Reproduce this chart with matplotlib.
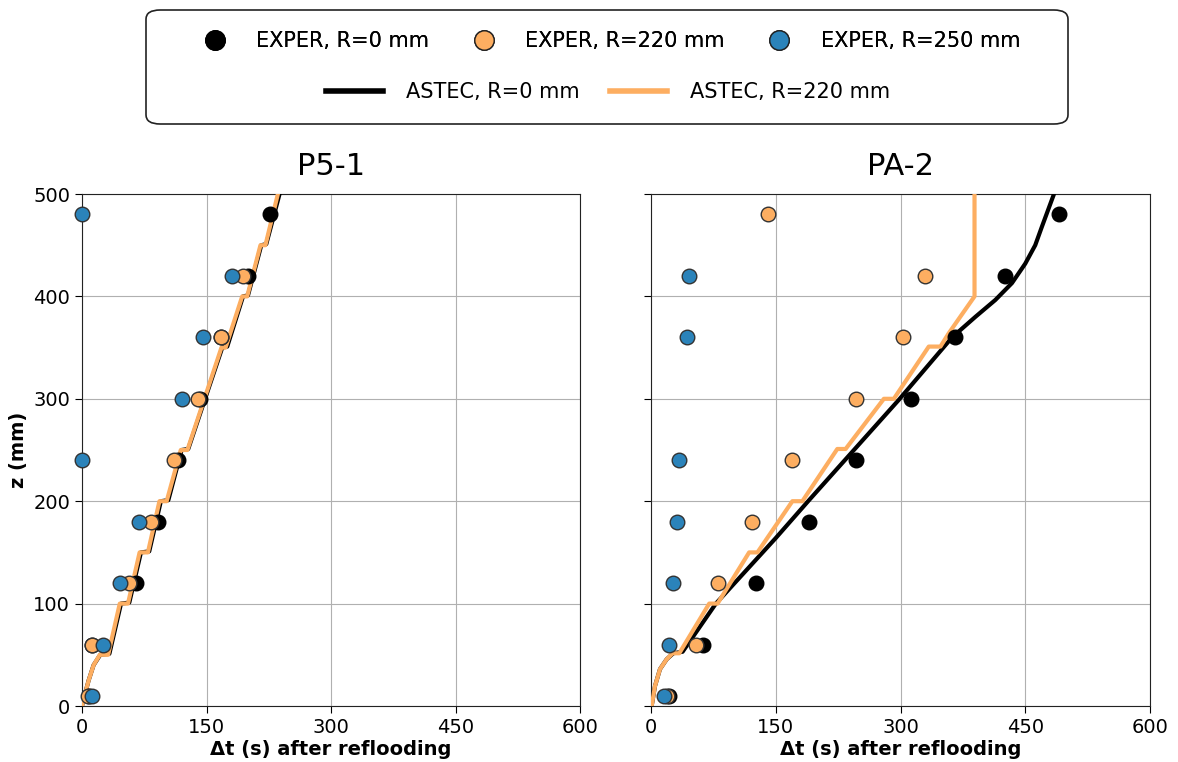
import matplotlib
matplotlib.use("Agg")
import matplotlib.pyplot as plt
from matplotlib.patches import FancyBboxPatch
from matplotlib.lines import Line2D

# ---------------- data ----------------
z_exp = [480, 420, 360, 300, 240, 180, 120, 60, 10]

# P5-1
p5_exp_r0 = [226, 200, 168, 142, 116, 92, 65, 12, 9]
p5_exp_r220 = [None, 194, 167, 140, 111, 83, 57, 12, 7.6]
p5_exp_r250 = [0, 181, 146, 120, 0, 69, 46, 25.5, 12.4]

p5_astec_r220_t = [0, 3, 8, 14, 21.5, 31.5, 45.5, 55.4, 69.4, 79.4, 93.3, 102, 119, 127,
                   168, 173, 193, 199, 215, 221, 236]
p5_astec_r220_z = [0, 10, 25, 40, 50, 50, 100, 100, 150, 150, 200, 200, 250, 250,
                   350, 350, 400, 400, 450, 450, 500]
p5_astec_r0_t = [0, 3, 8, 14, 22, 33, 47, 57, 71, 81, 95, 104, 120, 128,
                 169, 175, 194, 200, 216, 222, 238]
p5_astec_r0_z = [0, 10, 25, 40, 50, 51, 100, 101, 150, 151, 200, 201, 250, 251,
                 350, 351, 400, 401, 450, 451, 500]

# PA-2
pa_exp_r0 = [490, 426, 365, 313, 246, 190, 126, 63, 22]
pa_exp_r220 = [141, 329, 303, 246, 169, 122, 81, 54, 19]
pa_z_r250 = [420, 360, 240, 180, 120, 60, 10]
pa_exp_r250 = [45.6, 42.8, 34, 31.6, 26, 21.6, 15.6]

pa_astec_r220_t = [0.8, 4.8, 10.8, 18.8, 26, 34, 70, 80, 118, 128, 170, 182,
                   224, 234, 280, 292, 334, 348, 358, 386, 389, 389]
pa_astec_r220_z = [0, 19.5, 36, 45.6, 51.5, 51.5, 100, 100, 150, 150, 200, 200,
                   251, 251, 300, 300, 351, 351, 364, 396.5, 400, 500]
pa_astec_r0_t = [0.8, 4.8, 10.8, 18.8, 26.8, 38, 78, 150, 190, 298,
                 362, 390, 414, 434, 450, 462, 470, 485]
pa_astec_r0_z = [0, 19.5, 36, 45.6, 51.5, 53, 100, 164, 201, 299,
                 360, 380, 396.5, 413, 432, 450, 468, 501]

xticks = [0, 150, 300, 450, 600]
yticks = [0, 100, 200, 300, 400, 500]
titles = ["P5-1", "PA-2"]

BLACK = "black"
ORANGE = "#fdae61"
BLUE = "#2b83ba"

fig = plt.figure(figsize=(11.78, 7.62), dpi=100)
W, H = 1178, 762
axL = fig.add_axes([82 / W, (H - 706) / H, 498 / W, 512 / H])
axR = fig.add_axes([651 / W, (H - 706) / H, 499 / W, 512 / H], sharey=axL)


def pairs(xs, zs):
    out = [(x, z) for x, z in zip(xs, zs) if x is not None]
    return [p[0] for p in out], [p[1] for p in out]


def draw(ax, a0t, a0z, a2t, a2z, e0, e2, e5, z5):
    ax.plot(a0t, a0z, color=BLACK, lw=3, zorder=3)
    ax.plot(a2t, a2z, color=ORANGE, lw=3, zorder=3)
    x, z = pairs(e0, z_exp)
    ax.scatter(x, z, s=110, color=BLACK, edgecolor="black", lw=1, zorder=4, clip_on=False)
    x, z = pairs(e2, z_exp)
    ax.scatter(x, z, s=110, color=ORANGE, edgecolor="#333333", lw=1, zorder=5, clip_on=False)
    x, z = pairs(e5, z5)
    ax.scatter(x, z, s=110, color=BLUE, edgecolor="#333333", lw=1, zorder=6, clip_on=False)
    ax.set_xlim(0, 600)
    ax.set_ylim(0, 500)
    ax.set_xticks(xticks)
    ax.set_yticks(yticks)
    ax.grid(True, color="#b0b0b0", lw=0.8)
    ax.set_axisbelow(True)
    ax.tick_params(labelsize=14, length=5)
    ax.set_xlabel("Δt (s) after reflooding", fontsize=14, fontweight="bold", labelpad=2)
    for s in ax.spines.values():
        s.set_color("#222222")


draw(axL, p5_astec_r0_t, p5_astec_r0_z, p5_astec_r220_t, p5_astec_r220_z,
     p5_exp_r0, p5_exp_r220, p5_exp_r250, z_exp)
draw(axR, pa_astec_r0_t, pa_astec_r0_z, pa_astec_r220_t, pa_astec_r220_z,
     pa_exp_r0, pa_exp_r220, pa_exp_r250, pa_z_r250)
axL.set_title(titles[0], fontsize=22, pad=14)
axR.set_title(titles[1], fontsize=22, pad=14)
axL.set_ylabel("z (mm)", fontsize=14, fontweight="bold")
plt.setp(axR.get_yticklabels(), visible=False)

# legend box
box = FancyBboxPatch((146 / W, (H - 124) / H), (1068 - 146) / W, (124 - 10) / H,
                     boxstyle="round,pad=0,rounding_size=0.012", transform=fig.transFigure,
                     facecolor="white", edgecolor="#222222", lw=1.2)
fig.patches.append(box)

h1 = [Line2D([], [], ls="none", marker="o", ms=14, mfc=BLACK, mec="black"),
      Line2D([], [], ls="none", marker="o", ms=14, mfc=ORANGE, mec="#222222"),
      Line2D([], [], ls="none", marker="o", ms=14, mfc=BLUE, mec="#222222")]
l1 = ["EXPER, R=0 mm", "EXPER, R=220 mm", "EXPER, R=250 mm"]
leg1 = fig.legend(h1, l1, ncol=3, frameon=False, fontsize=15, loc="center",
                  bbox_to_anchor=(607 / W, (H - 41) / H), columnspacing=1.6,
                  handletextpad=1.0)
h2 = [Line2D([], [], color=BLACK, lw=4), Line2D([], [], color=ORANGE, lw=4)]
l2 = ["ASTEC, R=0 mm", "ASTEC, R=220 mm"]
leg2 = fig.legend(h2, l2, ncol=2, frameon=False, fontsize=15, loc="center",
                  bbox_to_anchor=(608 / W, (H - 92) / H), columnspacing=1.5,
                  handlelength=2.7, handletextpad=1.1)
fig.add_artist(leg1)

fig.savefig("out.png", dpi=100)
